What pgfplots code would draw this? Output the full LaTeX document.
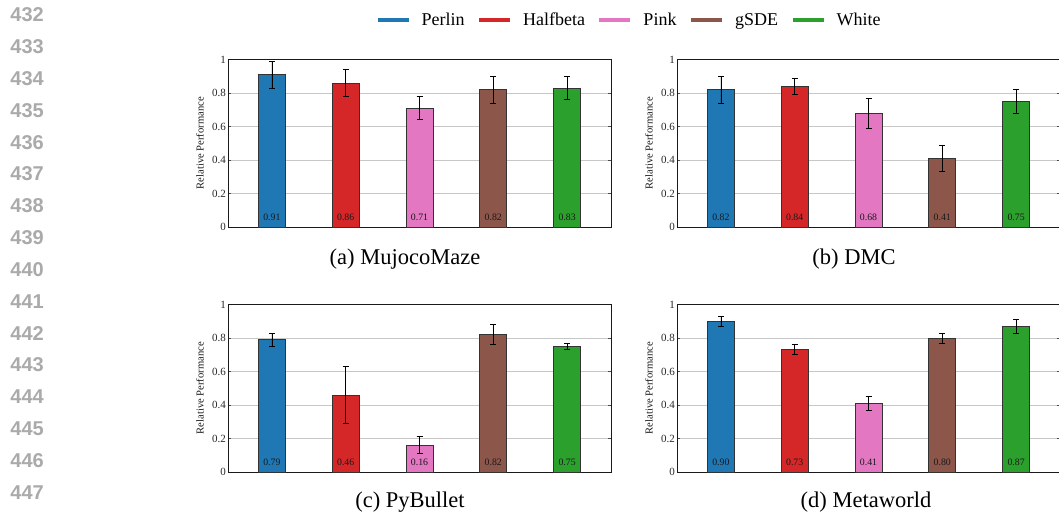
\documentclass[border=0pt]{standalone}
\usepackage{pgfplots}
\pgfplotsset{compat=1.18}
\usepackage{fontspec}
\setmainfont{Liberation Serif}
\newfontfamily\lnfont{Liberation Sans}
\definecolor{cPerlin}{HTML}{1F77B4}
\definecolor{cHalf}{HTML}{D62728}
\definecolor{cPink}{HTML}{E377C2}
\definecolor{cGsde}{HTML}{8C564B}
\definecolor{cWhite}{HTML}{2CA02C}
\definecolor{lngray}{RGB}{170,170,170}
\pgfplotsset{
  panel/.style={
    scale only axis, width=383pt, height=167.5pt,
    xmin=-0.595, xmax=4.595, ymin=0, ymax=1,
    xtick=\empty, ytick={0,0.2,0.4,0.6,0.8,1},
    yticklabels={0,0.2,0.4,0.6,0.8,1},
    ymajorgrids, major grid style={black!22, line width=0.8pt},
    axis line style={black!90, line width=0.8pt},
    tick style={black!70, line width=0.6pt}, major tick length=3pt,
    tick align=inside, ytick pos=both,
    /pgf/number format/assume math mode=true,
    tick label style={font=\fontsize{11}{13}\selectfont, text=black!85},
    yticklabel style={inner sep=2pt},
    ylabel={Relative Performance},
    ylabel style={at={(axis description cs:-0.073,0.5)}, anchor=center, font=\fontsize{10.6}{12}\selectfont, text=black!90},
    clip=false,
  },
  bb/.style={ybar, bar shift=0pt, bar width=27pt, fill=#1, draw=black!80, line width=0.7pt, forget plot,
    error bars/.cd, y dir=both, y explicit,
    error bar style={black, line width=0.8pt},
    error mark options={rotate=90, black, mark size=3pt, line width=0.8pt}},
  vl/.style={draw=none, mark=none, forget plot, nodes near coords, point meta=explicit symbolic,
    every node near coord/.style={font=\fontsize{9.8}{11}\selectfont, anchor=center, inner sep=0pt, text=black!90}},
}
\begin{document}
\begin{tikzpicture}[x=1pt,y=1pt]
\useasboundingbox (0pt,0pt) rectangle (1059pt,512pt);
% line numbers
\foreach \i in {0,...,15}{
  \pgfmathtruncatemacro\ln{432+\i}
  \node[anchor=base east, inner sep=0pt, text=lngray, font=\lnfont\bfseries\fontsize{20}{22}\selectfont] at (44pt,{490pt-31.8pt*\i}) {\ln};
}
% (a) MujocoMaze
\begin{axis}[panel, at={(228pt,285pt)}, anchor=south west,
  legend columns=5,
  legend image code/.code={\draw[#1] (0pt,0pt) -- (31pt,0pt);},
  legend style={at={(1.0444,1.2358)}, anchor=center, draw=none, fill=none,
    font=\fontsize{18}{20}\selectfont, nodes={inner sep=0pt},
    /tikz/every even column/.append style={column sep=12.5pt},
    /tikz/every odd column/.append style={column sep=11pt}},
]
\addlegendimage{cPerlin, line width=4pt}\addlegendentry{Perlin}
\addlegendimage{cHalf, line width=4pt}\addlegendentry{Halfbeta}
\addlegendimage{cPink, line width=4pt}\addlegendentry{Pink}
\addlegendimage{cGsde, line width=4pt}\addlegendentry{gSDE}
\addlegendimage{cWhite, line width=4pt}\addlegendentry{White}
\addplot[bb=cPerlin] coordinates {(0,0.91) +- (0,0.08)};
\addplot[bb=cHalf] coordinates {(1,0.86) +- (0,0.08)};
\addplot[bb=cPink] coordinates {(2,0.71) +- (0,0.07)};
\addplot[bb=cGsde] coordinates {(3,0.82) +- (0,0.08)};
\addplot[bb=cWhite] coordinates {(4,0.83) +- (0,0.07)};
\addplot[vl] coordinates {(0,0.055)[0.91] (1,0.055)[0.86] (2,0.055)[0.71] (3,0.055)[0.82] (4,0.055)[0.83]};
\end{axis}
% (b) DMC
\begin{axis}[panel, at={(677pt,285pt)}, anchor=south west]
\addplot[bb=cPerlin] coordinates {(0,0.82) +- (0,0.08)};
\addplot[bb=cHalf] coordinates {(1,0.84) +- (0,0.05)};
\addplot[bb=cPink] coordinates {(2,0.68) +- (0,0.09)};
\addplot[bb=cGsde] coordinates {(3,0.41) +- (0,0.08)};
\addplot[bb=cWhite] coordinates {(4,0.75) +- (0,0.07)};
\addplot[vl] coordinates {(0,0.055)[0.82] (1,0.055)[0.84] (2,0.055)[0.68] (3,0.055)[0.41] (4,0.055)[0.75]};
\end{axis}
% (c) PyBullet
\begin{axis}[panel, at={(228pt,40pt)}, anchor=south west]
\addplot[bb=cPerlin] coordinates {(0,0.79) +- (0,0.04)};
\addplot[bb=cHalf] coordinates {(1,0.46) +- (0,0.17)};
\addplot[bb=cPink] coordinates {(2,0.16) +- (0,0.05)};
\addplot[bb=cGsde] coordinates {(3,0.82) +- (0,0.06)};
\addplot[bb=cWhite] coordinates {(4,0.75) +- (0,0.02)};
\addplot[vl] coordinates {(0,0.055)[0.79] (1,0.055)[0.46] (2,0.055)[0.16] (3,0.055)[0.82] (4,0.055)[0.75]};
\end{axis}
% (d) Metaworld
\begin{axis}[panel, at={(677pt,40pt)}, anchor=south west]
\addplot[bb=cPerlin] coordinates {(0,0.90) +- (0,0.03)};
\addplot[bb=cHalf] coordinates {(1,0.73) +- (0,0.03)};
\addplot[bb=cPink] coordinates {(2,0.41) +- (0,0.04)};
\addplot[bb=cGsde] coordinates {(3,0.80) +- (0,0.03)};
\addplot[bb=cWhite] coordinates {(4,0.87) +- (0,0.04)};
\addplot[vl] coordinates {(0,0.055)[0.90] (1,0.055)[0.73] (2,0.055)[0.41] (3,0.055)[0.80] (4,0.055)[0.87]};
\end{axis}
% captions
\begin{scope}[every node/.style={anchor=base, inner sep=0pt, font=\fontsize{22.5}{26}\selectfont}]
\node at (405pt,248pt) {(a)\ MujocoMaze};
\node at (854pt,248pt) {(b)\ DMC};
\node at (410pt,5pt) {(c)\ PyBullet};
\node at (866pt,5pt) {(d)\ Metaworld};
\end{scope}
\end{tikzpicture}
\end{document}
